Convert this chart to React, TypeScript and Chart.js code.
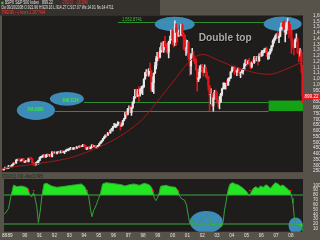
import React, { useEffect, useRef } from 'react';
import { Chart, registerables } from 'chart.js';

Chart.register(...registerables);

// ---------------- DATA ----------------
// Monthly candles, Aug 1988 .. Oct 2008 (open = previous close)
const START_YEAR = 1988;
const START_MONTH = 8;
const FIRST_OPEN = 272.02;

const closes = [
  261.52, 271.91, 278.97, 273.7, 277.72,
  297.47, 288.86, 294.87, 309.64, 320.52, 317.98, 346.08, 351.45, 349.15, 340.36, 345.99, 353.4,
  329.08, 331.89, 339.94, 330.8, 361.23, 358.02, 356.15, 322.56, 306.05, 304.0, 322.22, 330.22,
  343.93, 367.07, 375.22, 375.35, 389.83, 371.16, 387.81, 395.43, 387.86, 392.46, 375.22, 417.09,
  408.79, 412.7, 403.69, 414.95, 415.35, 408.14, 424.21, 414.03, 417.8, 418.68, 431.35, 435.71,
  438.78, 443.38, 451.67, 440.19, 450.19, 450.53, 448.13, 463.56, 458.93, 467.83, 461.79, 466.45,
  481.61, 467.14, 445.77, 450.91, 456.5, 444.27, 458.26, 475.49, 462.69, 472.35, 453.69, 459.27,
  470.42, 487.39, 500.71, 514.71, 533.4, 544.75, 562.06, 561.88, 584.41, 581.5, 605.37, 615.93,
  636.02, 640.43, 645.5, 654.17, 669.12, 670.63, 639.95, 651.99, 687.31, 705.27, 757.02, 740.74,
  786.16, 790.82, 757.12, 801.34, 848.28, 885.14, 954.31, 899.47, 947.28, 914.62, 955.4, 970.43,
  980.28, 1049.34, 1101.75, 1111.75, 1090.82, 1133.84, 1120.67, 957.28, 1017.01, 1098.67, 1163.63, 1229.23,
  1279.64, 1238.33, 1286.37, 1335.18, 1301.84, 1372.71, 1328.72, 1320.41, 1282.71, 1362.93, 1388.91, 1469.25,
  1394.46, 1366.42, 1498.58, 1452.43, 1420.6, 1454.6, 1430.83, 1517.68, 1436.51, 1429.4, 1314.95, 1320.28,
  1366.01, 1239.94, 1160.33, 1249.46, 1255.82, 1224.38, 1211.23, 1133.58, 1040.94, 1059.78, 1139.45, 1148.08,
  1130.2, 1106.73, 1147.39, 1076.92, 1067.14, 989.82, 911.62, 916.07, 815.28, 885.76, 936.31, 879.82,
  855.7, 841.15, 848.18, 916.92, 963.59, 974.5, 990.31, 1008.01, 995.97, 1050.71, 1058.2, 1111.92,
  1131.13, 1144.94, 1126.21, 1107.3, 1120.68, 1140.84, 1101.72, 1104.24, 1114.58, 1130.2, 1173.82, 1211.92,
  1181.27, 1203.6, 1180.59, 1156.85, 1191.5, 1191.33, 1234.18, 1220.33, 1228.81, 1207.01, 1249.48, 1248.29,
  1280.08, 1280.66, 1294.83, 1310.61, 1270.09, 1270.2, 1276.66, 1303.82, 1335.85, 1377.94, 1400.63, 1418.3,
  1438.24, 1406.82, 1420.86, 1482.37, 1530.62, 1503.35, 1455.27, 1473.99, 1526.75, 1549.38, 1481.14, 1468.36,
  1378.55, 1330.63, 1322.7, 1385.59, 1400.38, 1280.0, 1267.38, 1282.83, 1166.36, 899.22,
];

const highs = [
  272, 273, 284, 280, 283,
  299, 300, 300, 311, 322, 327, 347, 354, 354, 360, 347, 354,
  360, 336, 344, 342, 362, 368, 370, 359, 325, 315, 324, 333,
  345, 371, 377, 385, 391, 392, 392, 397, 397, 396, 399, 418,
  421, 416, 413, 418, 419, 416, 425, 425, 423, 419, 432, 442,
  443, 449, 456, 452, 454, 454, 452, 464, 464, 470, 469, 472,
  482, 482, 472, 452, 459, 462, 459, 477, 477, 474, 474, 466,
  473, 489, 507, 515, 534, 551, 564, 565, 587, 587, 606, 622,
  637, 664, 660, 656, 680, 673, 675, 667, 688, 707, 758, 762,
  794, 817, 814, 804, 851, 898, 957, 961, 960, 983, 964, 986,
  992, 1051, 1106, 1130, 1123, 1139, 1190, 1121, 1067, 1103, 1193, 1245,
  1280, 1280, 1322, 1362, 1372, 1372, 1420, 1356, 1362, 1375, 1421, 1474,
  1478, 1444, 1553, 1527, 1481, 1474, 1517, 1525, 1530, 1454, 1433, 1389,
  1384, 1376, 1267, 1269, 1316, 1287, 1239, 1226, 1135, 1110, 1163, 1173,
  1176, 1131, 1173, 1147, 1106, 1070, 994, 965, 925, 907, 951, 954,
  935, 865, 896, 924, 966, 1015, 1016, 1012, 1040, 1053, 1063, 1112,
  1155, 1159, 1163, 1150, 1128, 1146, 1141, 1109, 1131, 1142, 1188, 1217,
  1217, 1212, 1229, 1192, 1199, 1219, 1246, 1245, 1243, 1234, 1270, 1276,
  1295, 1297, 1310, 1318, 1326, 1285, 1281, 1311, 1340, 1389, 1407, 1431,
  1441, 1462, 1439, 1498, 1535, 1540, 1556, 1503, 1539, 1576, 1552, 1524,
  1471, 1396, 1359, 1397, 1440, 1405, 1292, 1314, 1304, 1168,
];

const lows = [
  256, 257, 270, 264, 271,
  276, 286, 286, 291, 306, 314, 318, 342, 343, 330, 335, 340,
  320, 322, 330, 326, 329, 355, 351, 306, 300, 295, 303, 320,
  309, 340, 362, 369, 371, 368, 370, 377, 383, 378, 372, 372,
  407, 406, 400, 399, 409, 401, 409, 410, 412, 402, 417, 428,
  426, 431, 440, 436, 437, 441, 441, 446, 451, 457, 459, 461,
  464, 465, 436, 435, 442, 442, 443, 456, 461, 460, 448, 449,
  459, 469, 485, 500, 511, 530, 544, 553, 560, 571, 580, 604,
  597, 632, 627, 632, 643, 658, 605, 639, 649, 686, 703, 722,
  737, 773, 756, 733, 794, 837, 882, 898, 896, 855, 901, 926,
  912, 975, 1047, 1076, 1074, 1074, 1114, 940, 939, 923, 1096, 1137,
  1205, 1212, 1232, 1281, 1281, 1279, 1325, 1281, 1267, 1233, 1354, 1388,
  1350, 1325, 1339, 1339, 1368, 1420, 1416, 1425, 1417, 1305, 1294, 1254,
  1274, 1215, 1081, 1091, 1233, 1203, 1182, 1124, 944, 1026, 1054, 1114,
  1101, 1074, 1106, 1063, 1048, 953, 776, 833, 815, 769, 873, 872,
  840, 807, 789, 847, 902, 962, 962, 960, 990, 996, 1031, 1053,
  1106, 1124, 1088, 1107, 1077, 1118, 1078, 1060, 1102, 1090, 1128, 1163,
  1163, 1180, 1177, 1137, 1146, 1188, 1184, 1201, 1205, 1168, 1202, 1246,
  1245, 1253, 1277, 1283, 1245, 1219, 1224, 1265, 1290, 1327, 1360, 1385,
  1403, 1400, 1364, 1416, 1476, 1484, 1454, 1370, 1439, 1489, 1406, 1435,
  1270, 1317, 1257, 1320, 1374, 1272, 1200, 1247, 1107, 840,
];

// Long moving average
const maDates = [1988.59, 1989.5, 1990.67, 1991.8, 1993.0, 1994.1, 1995.17, 1996.1, 1996.98, 1998.05, 1999.19, 2000.3, 2001.32, 2002.1, 2003.0, 2004.0, 2004.78, 2005.7, 2006.58, 2007.6, 2008.82];
const maValues = [272, 290, 308, 330, 359, 405, 462, 520, 591, 702, 880, 1060, 1219, 1262, 1219, 1165, 1133, 1100, 1090, 1130, 1200];

// Stochastic (lower panel)
const stochDates = [
  1988.46, 1988.68, 1988.9, 1989.08, 1989.24, 1989.46, 1989.8, 1990.07, 1990.2, 1990.34, 1990.47, 1990.58, 1990.67, 1990.81, 1990.92,
  1991.05, 1991.16, 1991.3, 1991.48, 1991.81, 1992.15, 1992.48, 1992.82, 1993.15, 1993.49, 1993.83, 1994.05, 1994.18, 1994.32, 1994.45,
  1994.54, 1994.65, 1994.83, 1994.99, 1995.12, 1995.26, 1995.5, 1995.84, 1996.17, 1996.51, 1996.78, 1997.07, 1997.4, 1997.74, 1998.08,
  1998.41, 1998.57, 1998.66, 1998.75, 1998.86, 1998.97, 1999.08, 1999.19, 1999.53, 1999.87, 2000.2, 2000.36, 2000.49, 2000.65, 2000.8,
  2000.94, 2001.07, 2001.16, 2001.3, 2001.43, 2001.59, 2001.72, 2001.88, 2002.04, 2002.19, 2002.33, 2002.46, 2002.59, 2002.73, 2002.86,
  2003.0, 2003.15, 2003.31, 2003.42, 2003.51, 2003.6, 2003.69, 2003.78, 2003.89, 2004.05, 2004.23, 2004.45, 2004.68, 2004.9, 2005.06,
  2005.19, 2005.32, 2005.46, 2005.62, 2005.79, 2005.95, 2006.13, 2006.31, 2006.46, 2006.62, 2006.8, 2006.96, 2007.14, 2007.29, 2007.47,
  2007.65, 2007.81, 2007.96, 2008.08, 2008.14, 2008.23, 2008.32, 2008.43, 2008.55, 2008.66, 2008.75, 2008.8,
];
const stochValues = [
  38.6, 42.1, 52.4, 80.0, 100.7, 97.2, 98.6, 95.9, 93.8, 79.3, 76.6, 84.8, 76.6, 55.9, 22.8,
  49.0, 80.0, 102.8, 104.1, 98.6, 95.9, 97.2, 98.6, 100.0, 101.4, 102.8, 97.2, 89.0, 76.6, 49.0,
  35.2, 47.6, 59.3, 73.1, 83.5, 102.8, 105.5, 104.1, 102.8, 101.4, 98.6, 101.4, 102.8, 100.0, 104.1,
  101.4, 95.9, 89.0, 75.2, 68.3, 73.1, 83.5, 98.0, 100.0, 97.2, 95.9, 89.0, 76.6, 71.1, 69.7,
  59.3, 35.2, 21.4, 28.3, 24.8, 21.4, 17.2, 24.8, 31.7, 35.2, 38.6, 31.7, 21.4, 15.9, 17.9,
  22.8, 17.9, 14.5, 24.8, 49.0, 62.8, 80.0, 93.8, 102.8, 105.5, 102.8, 100.7, 95.9, 90.3, 84.8,
  78.0, 86.2, 93.8, 97.2, 93.8, 98.6, 95.9, 101.4, 98.6, 93.8, 100.7, 105.5, 102.8, 98.6, 100.7,
  95.9, 91.7, 86.9, 73.1, 62.8, 35.2, 21.4, 17.9, 17.2, 15.9, 11.1, 4.2,
];

// Red sell markers on the stochastic
const signalDates = [1990.25, 1990.6, 1994.23, 1998.66, 2000.36, 2005.23, 2007.99];
const signalValues = [89, 89, 89, 89, 89, 89, 89];

// Axis ticks
const priceTickValues = [250, 300, 350, 400, 450, 500, 550, 600, 650, 700, 750, 800, 850, 900, 950, 1000, 1050, 1100, 1150, 1200, 1250, 1300, 1350, 1400, 1450, 1500, 1550, 1600];
const stochTickValues = [10, 20, 30, 40, 50, 60, 70, 80, 90, 100];
const yearTickValues = [1988.62, 1989, 1990, 1991, 1992, 1993, 1994, 1995, 1996, 1997, 1998, 1999, 2000, 2001, 2002, 2003, 2004, 2005, 2006, 2007, 2008];
const yearTickLabels = ['88', '89', '90', '91', '92', '93', '94', '95', '96', '97', '98', '99', '00', '01', '02', '03', '04', '05', '06', '07', '08'];

// Texts
const HEADER_TITLE = '$SPX S&P 500 Index   899.22';
const HEADER_CHANGE = '-200.01   -18.20%';
const HEADER_OHLC = 'Do 09/10/2008 O:921.96 H:929.16 L:914.27 C:917.07 Ws:14.01 Ns:14.4711';
const HEADER_TREND = 'TREND(---) hours 1.2877494';
const STO_HEADER = 'STO(14,5,3) - 5.00 ~ Main 15.74955';
const LAST_PRICE = 899.22;

// ---------------- LAYOUT / STYLE ----------------
const X_MIN = 1988.59;
const X_MAX = 2008.82;
const FONT = '"Liberation Sans", Arial, sans-serif';
const FRAME = '#57534b';
const HEADER_DARK = '#35322e';
const PLOT_BG = '#1f1d1c';
const AXIS_TEXT = '#e2e2e2';
const UP = '#e6e6e6';
const DOWN = '#e3161b';
const MA_COLOR = '#9c1a1a';
const ELLIPSE = 'rgba(62,146,192,0.95)';
const LEVEL_COLOR = '#2f8f2f';
const BOX_GREEN = '#14a214';
const LABEL_GREEN = '#3ee63e';
const FILL_GREEN = '#22e622';
const STOCH_LINE = '#37a037';
const REF_LINE = '#3aa83a';

const MAIN_ELLIPSES = [
  { t: 2000.2, v: 1525, rt: 1.34, rv: 64 },
  { t: 2007.45, v: 1527, rt: 1.28, rv: 64 },
  { t: 1992.95, v: 877, rt: 1.14, rv: 60 },
  { t: 1990.87, v: 777, rt: 1.28, rv: 83 },
];
const ELLIPSE_LABELS = [
  { text: '848.1134', t: 1993.2, v: 864, w: 16 },
  { text: '768.6300', t: 1990.83, v: 783, w: 16 },
];
const LEVELS = [
  { v: 1546, t0: 1996.38, t1: 2006.24 },
  { v: 849, t0: 1994.1, t1: 2006.51 },
  { v: 769, t0: 1992.15, t1: 2006.51 },
];
const PEAK_LABEL = { text: '1,552.8741', t: 1996.65, v: 1567, w: 20 };
const SUPPORT_BOX = { t0: 2006.51, t1: X_MAX, v0: 771, v1: 862 };
const DOUBLE_TOP = { text: 'Double top', t: 2003.59, v: 1406, w: 53 };
const LOWER_ELLIPSES = [
  { t: 2002.28, v: 24, rt: 1.12, rv: 22.8 },
  { t: 2008.32, v: 16.9, rt: 0.48, rv: 16.6 },
];

const monthTime = (i: number) => START_YEAR + (START_MONTH - 1 + i + 0.5) / 12;
const fmtPrice = (v: number) => (v >= 1000 ? Math.floor(v / 1000) + ',' + String(v % 1000).padStart(3, '0') : String(v));

function drawEllipses(ctx: any, x: any, y: any, list: any[]) {
  ctx.fillStyle = ELLIPSE;
  for (const e of list) {
    const cx = x.getPixelForValue(e.t);
    const cy = y.getPixelForValue(e.v);
    const rx = Math.abs(x.getPixelForValue(e.t + e.rt) - cx);
    const ry = Math.abs(y.getPixelForValue(e.v + e.rv) - cy);
    ctx.beginPath();
    ctx.ellipse(cx, cy, rx, ry, 0, 0, Math.PI * 2);
    ctx.fill();
  }
}

const mainPlugin = {
  id: 'mainDecor',
  beforeDraw(chart: any) {
    const { ctx, chartArea: a, width, height } = chart;
    ctx.save();
    ctx.fillStyle = FRAME;
    ctx.fillRect(0, 0, width, height);
    ctx.fillStyle = HEADER_DARK;
    ctx.fillRect(0, 0, 160, a.top);
    ctx.fillStyle = PLOT_BG;
    ctx.fillRect(a.left, a.top, a.right - a.left, a.bottom - a.top);
    ctx.restore();
  },
  beforeDatasetsDraw(chart: any) {
    const { ctx, chartArea: a } = chart;
    const x = chart.scales.x;
    const y = chart.scales.y;
    ctx.save();
    ctx.beginPath();
    ctx.rect(a.left, a.top, a.right - a.left, a.bottom - a.top);
    ctx.clip();
    ctx.strokeStyle = LEVEL_COLOR;
    ctx.lineWidth = 1;
    for (const L of LEVELS) {
      const py = Math.round(y.getPixelForValue(L.v)) + 0.5;
      ctx.beginPath();
      ctx.moveTo(x.getPixelForValue(L.t0), py);
      ctx.lineTo(x.getPixelForValue(L.t1), py);
      ctx.stroke();
    }
    const bx0 = x.getPixelForValue(SUPPORT_BOX.t0);
    const bx1 = x.getPixelForValue(SUPPORT_BOX.t1);
    const by0 = y.getPixelForValue(SUPPORT_BOX.v1);
    const by1 = y.getPixelForValue(SUPPORT_BOX.v0);
    ctx.fillStyle = BOX_GREEN;
    ctx.fillRect(bx0, by0, bx1 - bx0, by1 - by0);
    drawEllipses(ctx, x, y, MAIN_ELLIPSES);
    ctx.restore();
  },
  afterDatasetsDraw(chart: any) {
    const { ctx } = chart;
    const x = chart.scales.x;
    const y = chart.scales.y;
    ctx.save();
    ctx.textBaseline = 'middle';
    ctx.font = `bold 4.6px ${FONT}`;
    ctx.fillStyle = LABEL_GREEN;
    ctx.textAlign = 'center';
    for (const l of ELLIPSE_LABELS) {
      ctx.fillText(l.text, x.getPixelForValue(l.t), y.getPixelForValue(l.v), l.w);
    }
    ctx.textAlign = 'left';
    ctx.font = `4.6px ${FONT}`;
    ctx.fillStyle = '#35c435';
    ctx.fillText(PEAK_LABEL.text, x.getPixelForValue(PEAK_LABEL.t), y.getPixelForValue(PEAK_LABEL.v), PEAK_LABEL.w);
    // Double top
    ctx.font = `bold 11px ${FONT}`;
    ctx.textAlign = 'center';
    const dx = x.getPixelForValue(DOUBLE_TOP.t);
    const dy = y.getPixelForValue(DOUBLE_TOP.v);
    ctx.fillStyle = '#0c0c0c';
    ctx.fillText(DOUBLE_TOP.text, dx + 0.8, dy + 0.8, DOUBLE_TOP.w);
    ctx.fillStyle = '#a9a9a9';
    ctx.fillText(DOUBLE_TOP.text, dx, dy, DOUBLE_TOP.w);
    ctx.restore();
  },
  afterDraw(chart: any) {
    const { ctx, chartArea: a, width } = chart;
    const y = chart.scales.y;
    ctx.save();
    // last price tag
    const py = y.getPixelForValue(LAST_PRICE);
    ctx.fillStyle = '#e8161c';
    ctx.fillRect(a.right, py - 3, width - a.right, 6);
    ctx.fillStyle = '#ffffff';
    ctx.font = `4.6px ${FONT}`;
    ctx.textBaseline = 'middle';
    ctx.textAlign = 'left';
    ctx.fillText(LAST_PRICE.toFixed(2), a.right + 1.5, py + 0.2, 14);
    // header
    ctx.fillStyle = '#36c236';
    ctx.beginPath();
    ctx.arc(2.4, 2.9, 1.3, 0, Math.PI * 2);
    ctx.fill();
    ctx.font = `5px ${FONT}`;
    ctx.fillStyle = '#e4e4e4';
    ctx.fillText(HEADER_TITLE, 5, 3, 48);
    ctx.fillStyle = '#ff3434';
    ctx.fillText(HEADER_CHANGE, 62, 3, 26);
    ctx.fillStyle = '#e4e4e4';
    ctx.fillText(HEADER_OHLC, 1.5, 7.9, 112);
    ctx.fillStyle = '#ff3434';
    ctx.fillText(HEADER_TREND, 1.5, 12.9, 44);
    ctx.restore();
  },
};

const lowerPlugin = {
  id: 'lowerDecor',
  beforeDraw(chart: any) {
    const { ctx, chartArea: a, width, height } = chart;
    ctx.save();
    ctx.fillStyle = FRAME;
    ctx.fillRect(0, 0, width, height);
    ctx.fillStyle = PLOT_BG;
    ctx.fillRect(a.left, a.top, a.right - a.left, a.bottom - a.top);
    ctx.font = `4.6px ${FONT}`;
    ctx.fillStyle = '#142814';
    ctx.textBaseline = 'middle';
    ctx.fillText(STO_HEADER, 2, a.top / 2 + 0.3, 41);
    ctx.restore();
  },
  beforeDatasetsDraw(chart: any) {
    const { ctx, chartArea: a } = chart;
    ctx.save();
    ctx.beginPath();
    ctx.rect(a.left, a.top, a.right - a.left, a.bottom - a.top);
    ctx.clip();
    drawEllipses(ctx, chart.scales.x, chart.scales.y, LOWER_ELLIPSES);
    ctx.restore();
  },
};

function mainConfig(): any {
  const times = closes.map((_, i) => monthTime(i));
  const opens = closes.map((c, i) => (i === 0 ? FIRST_OPEN : closes[i - 1]));
  const colors = closes.map((c, i) => (c >= opens[i] ? UP : DOWN));
  return {
    type: 'bar',
    data: {
      datasets: [
        {
          type: 'bar',
          data: times.map((t, i) => ({ x: t, y: [lows[i], highs[i]] })),
          backgroundColor: colors,
          borderWidth: 0,
          barThickness: 0.9,
          grouped: false,
          order: 3,
        },
        {
          type: 'bar',
          data: times.map((t, i) => ({ x: t, y: [opens[i], closes[i]] })),
          backgroundColor: colors,
          borderWidth: 0,
          barThickness: 1.5,
          grouped: false,
          order: 2,
        },
        {
          type: 'line',
          data: maDates.map((d, i) => ({ x: d, y: maValues[i] })),
          borderColor: MA_COLOR,
          borderWidth: 1,
          pointRadius: 0,
          cubicInterpolationMode: 'monotone',
          order: 1,
        },
      ],
    },
    options: {
      animation: false,
      responsive: false,
      devicePixelRatio: 1,
      events: [],
      layout: { padding: { left: 2, top: 15.5, right: 0, bottom: 3.5 } },
      plugins: { legend: { display: false }, tooltip: { enabled: false } },
      scales: {
        x: { type: 'linear', min: X_MIN, max: X_MAX, display: false, offset: false },
        y: {
          type: 'linear',
          position: 'right',
          min: 241,
          max: 1600,
          stacked: false,
          beginAtZero: false,
          afterFit: (s: any) => { s.width = 17; },
          afterBuildTicks: (s: any) => { s.ticks = priceTickValues.map((v) => ({ value: v })); },
          grid: { display: false },
          border: { display: false },
          ticks: {
            autoSkip: false,
            padding: 2,
            color: AXIS_TEXT,
            font: { family: FONT, size: 4.8 },
            callback: (v: any) => fmtPrice(Number(v)),
          },
        },
      },
    },
    plugins: [mainPlugin],
  };
}

function lowerConfig(): any {
  const stoch = stochDates.map((d, i) => ({ x: d, y: stochValues[i] }));
  return {
    type: 'line',
    data: {
      datasets: [
        {
          data: stoch,
          borderColor: 'rgba(0,0,0,0)',
          borderWidth: 0,
          pointRadius: 0,
          fill: { target: { value: 20 }, above: 'rgba(0,0,0,0)', below: FILL_GREEN },
          order: 4,
        },
        {
          data: stoch,
          borderColor: STOCH_LINE,
          borderWidth: 1,
          pointRadius: 0,
          fill: { target: { value: 80 }, above: FILL_GREEN, below: 'rgba(0,0,0,0)' },
          order: 3,
        },
        {
          data: [{ x: X_MIN, y: 80 }, { x: X_MAX, y: 80 }],
          borderColor: REF_LINE,
          borderWidth: 1,
          pointRadius: 0,
          order: 2,
        },
        {
          data: [{ x: X_MIN, y: 20 }, { x: X_MAX, y: 20 }],
          borderColor: REF_LINE,
          borderWidth: 1,
          pointRadius: 0,
          order: 2,
        },
        {
          data: signalDates.map((d, i) => ({ x: d, y: signalValues[i] })),
          showLine: false,
          pointStyle: 'rect',
          pointRadius: 1,
          pointBorderWidth: 0,
          pointBackgroundColor: '#ff2a2a',
          order: 1,
        },
      ],
    },
    options: {
      animation: false,
      responsive: false,
      devicePixelRatio: 1,
      events: [],
      layout: { padding: { left: 2, top: 6, right: 0, bottom: 0 } },
      plugins: { legend: { display: false }, tooltip: { enabled: false } },
      scales: {
        x: {
          type: 'linear',
          min: X_MIN,
          max: X_MAX,
          offset: false,
          afterFit: (s: any) => { s.height = 8.3; },
          afterBuildTicks: (s: any) => { s.ticks = yearTickValues.map((v) => ({ value: v })); },
          grid: { display: false, drawTicks: false },
          border: { display: false },
          ticks: {
            autoSkip: false,
            maxRotation: 0,
            padding: 0.8,
            color: AXIS_TEXT,
            font: { family: FONT, size: 4.6 },
            callback: (_v: any, i: number) => yearTickLabels[i],
          },
        },
        y: {
          type: 'linear',
          position: 'right',
          min: 4.1,
          max: 113.1,
          afterFit: (s: any) => { s.width = 17; },
          afterBuildTicks: (s: any) => { s.ticks = stochTickValues.map((v) => ({ value: v })); },
          grid: { display: false },
          border: { display: false },
          ticks: {
            autoSkip: false,
            padding: 2,
            color: AXIS_TEXT,
            font: { family: FONT, size: 4.6 },
          },
        },
      },
    },
    plugins: [lowerPlugin],
  };
}

export default function App() {
  const topRef = useRef<HTMLCanvasElement>(null);
  const botRef = useRef<HTMLCanvasElement>(null);
  useEffect(() => {
    const c1 = new Chart(topRef.current as HTMLCanvasElement, mainConfig());
    const c2 = new Chart(botRef.current as HTMLCanvasElement, lowerConfig());
    return () => {
      c1.destroy();
      c2.destroy();
    };
  }, []);
  return (
    <div style={{ position: 'fixed', left: 0, top: 0, width: 320, height: 240, overflow: 'hidden', background: FRAME }}>
      <canvas ref={topRef} width={320} height={177} style={{ position: 'absolute', left: 0, top: 0, width: 320, height: 177 }} />
      <canvas ref={botRef} width={320} height={67} style={{ position: 'absolute', left: 0, top: 173, width: 320, height: 67 }} />
    </div>
  );
}
